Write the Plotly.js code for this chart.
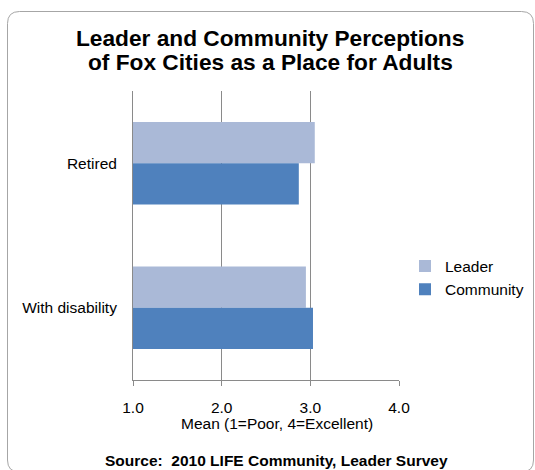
<!DOCTYPE html>
<html>
<head>
<meta charset="utf-8">
<script src="https://cdn.plot.ly/plotly-3.0.1.min.js"></script>
<style>html,body{margin:0;padding:0;background:#fff;}#chart{width:535px;height:470px;}</style>
</head>
<body>
<div id="chart"></div>
<script>
var categories = ['Retired', 'With disability'];
var leaderValues = [3.05, 2.95];
var communityValues = [2.87, 3.03];
var seriesNames = ['Leader', 'Community'];
var xTickVals = [1, 2, 3, 4];
var xTickText = ['1.0', '2.0', '3.0', '4.0'];

var W = 535, H = 470;
var M = {l: 133, r: 136, t: 91, b: 90, autoexpand: false};
function px2x(px) { return (px - M.l) / (W - M.l - M.r); }
function px2y(py) { return (H - M.b - py) / (H - M.t - M.b); }

// Rounded frame around the chart
var L = 7.5, T = 11.5, R = 533.5, B = 472, rad = 12;
var framePath = 'M ' + px2x(L) + ',' + px2y(T + rad) +
  ' Q ' + px2x(L) + ',' + px2y(T) + ' ' + px2x(L + rad) + ',' + px2y(T) +
  ' L ' + px2x(R - rad) + ',' + px2y(T) +
  ' Q ' + px2x(R) + ',' + px2y(T) + ' ' + px2x(R) + ',' + px2y(T + rad) +
  ' L ' + px2x(R) + ',' + px2y(B - rad) +
  ' Q ' + px2x(R) + ',' + px2y(B) + ' ' + px2x(R - rad) + ',' + px2y(B) +
  ' L ' + px2x(L + rad) + ',' + px2y(B) +
  ' Q ' + px2x(L) + ',' + px2y(B) + ' ' + px2x(L) + ',' + px2y(B - rad) + ' Z';

var gridCol = '#8a8a8a';
var font = 'Liberation Sans, Arial, sans-serif';

var traces = [
  {type: 'bar', orientation: 'h', name: seriesNames[0], y: categories, x: leaderValues,
   marker: {color: '#AAB9D7'}, hoverinfo: 'x+y'},
  {type: 'bar', orientation: 'h', name: seriesNames[1], y: categories, x: communityValues,
   marker: {color: '#4F81BD'}, hoverinfo: 'x+y'}
];

var layout = {
  width: W, height: H,
  margin: M,
  paper_bgcolor: '#fff', plot_bgcolor: '#fff',
  font: {family: font, size: 15.5, color: '#000'},
  barmode: 'group', bargap: 0.43, bargroupgap: 0,
  showlegend: true,
  legend: {x: px2x(405), xanchor: 'left', y: px2y(278), yanchor: 'middle',
           font: {size: 15.5, color: '#000'}, bgcolor: 'rgba(0,0,0,0)'},
  xaxis: {range: [1, 4], tickvals: xTickVals, ticktext: xTickText,
          showgrid: true, gridcolor: gridCol, gridwidth: 1,
          showline: true, linecolor: gridCol, linewidth: 1,
          ticks: 'outside', ticklen: 5, tickcolor: gridCol,
          zeroline: false, ticklabelstandoff: 8, fixedrange: true},
  yaxis: {autorange: 'reversed', showgrid: false, showline: true, linecolor: gridCol,
          ticks: '', zeroline: false, ticklabelstandoff: 12, fixedrange: true},
  shapes: [{type: 'path', xref: 'paper', yref: 'paper', path: framePath,
            line: {color: '#a6a6a6', width: 1}, fillcolor: 'rgba(0,0,0,0)', layer: 'below'}],
  annotations: [
    {text: 'Leader and Community Perceptions', xref: 'paper', yref: 'paper',
     x: px2x(270), y: px2y(38), xanchor: 'center', yanchor: 'middle', showarrow: false,
     font: {size: 22.7, weight: 'bold', color: '#000'}},
    {text: 'of Fox Cities as a Place for Adults', xref: 'paper', yref: 'paper',
     x: px2x(270), y: px2y(62), xanchor: 'center', yanchor: 'middle', showarrow: false,
     font: {size: 22.7, weight: 'bold', color: '#000'}},
    {text: 'Mean (1=Poor, 4=Excellent)', xref: 'paper', yref: 'paper',
     x: px2x(277), y: px2y(423), xanchor: 'center', yanchor: 'middle', showarrow: false,
     font: {size: 15.5, color: '#000'}},
    {text: 'Source:  2010 LIFE Community, Leader Survey', xref: 'paper', yref: 'paper',
     x: px2x(276), y: px2y(460), xanchor: 'center', yanchor: 'middle', showarrow: false,
     font: {size: 15.5, weight: 'bold', color: '#000'}}
  ]
};

Plotly.newPlot('chart', traces, layout, {displayModeBar: false, staticPlot: true});
</script>
</body>
</html>
